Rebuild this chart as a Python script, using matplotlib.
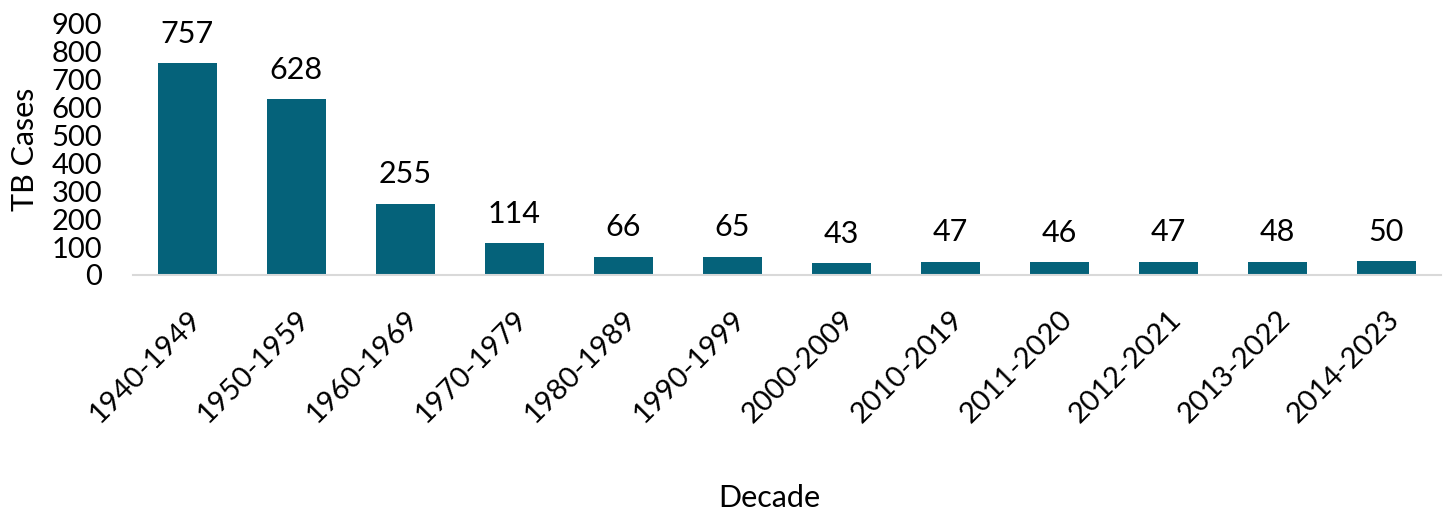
import matplotlib.pyplot as plt

decades = ['1940-1949', '1950-1959', '1960-1969', '1970-1979', '1980-1989', '1990-1999',
           '2000-2009', '2010-2019', '2011-2020', '2012-2021', '2013-2022', '2014-2023']
tb_cases = [757, 628, 255, 114, 66, 65, 43, 47, 46, 47, 48, 50]

plt.rcParams['font.family'] = ['Lato', 'DejaVu Sans']

fig = plt.figure(figsize=(14.45, 5.14), dpi=100)
ax = fig.add_axes([0.092, 0.465, 0.905, 0.49])

x = range(len(decades))
bars = ax.bar(x, tb_cases, width=0.54, color='#05627A')

for i, v in enumerate(tb_cases):
    ax.text(i, v + 55, str(v), ha='center', va='bottom', fontsize=22)

ax.set_xlim(-0.5, len(decades) - 0.5)
ax.set_ylim(0, 900)
ax.set_yticks(range(0, 901, 100))
ax.set_xticks(list(x))
ax.set_xticklabels(decades, rotation=45, ha='right', rotation_mode='anchor', fontsize=21)
ax.tick_params(axis='y', length=0, labelsize=21, pad=22)
ax.tick_params(axis='x', length=0, pad=22)

for side in ['top', 'right', 'left']:
    ax.spines[side].set_visible(False)
ax.spines['bottom'].set_color('#d9d9d9')
ax.spines['bottom'].set_linewidth(1.5)

ax.set_ylabel('TB Cases', fontsize=22)
ax.set_xlabel('Decade', fontsize=22)
ax.xaxis.set_label_coords(0.487, -0.83)
ax.yaxis.set_label_coords(-0.072, 0.5)

fig.savefig('out.png', dpi=100)
